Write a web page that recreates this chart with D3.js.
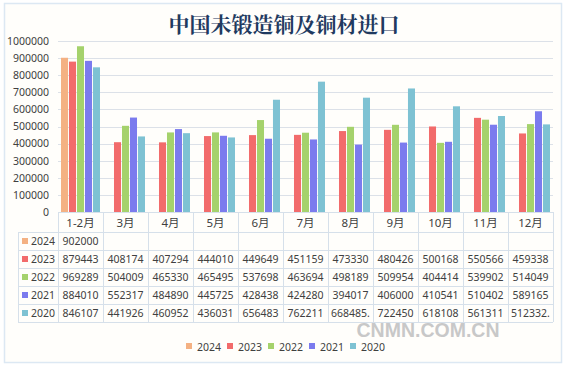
<!DOCTYPE html>
<html><head><meta charset="utf-8">
<script src="https://cdn.jsdelivr.net/npm/d3@7/dist/d3.min.js"></script>
<style>
html,body{margin:0;padding:0;background:#fff;}
svg{display:block;font-family:"Noto Sans","Noto Sans CJK SC",sans-serif;}
</style></head>
<body><svg id="c" width="568" height="367"></svg>
<script>
const title = "中国未锻造铜及铜材进口";
const categories = ["1-2月","3月","4月","5月","6月","7月","8月","9月","10月","11月","12月"];
const seriesNames = ["2024","2023","2022","2021","2020"];
const colors = ["#F4B183","#F26B6B","#A5D26C","#7B7BEE","#7EC2D3"];
const v2024 = [902000,null,null,null,null,null,null,null,null,null,null];
const v2023 = [879443,408174,407294,444010,449649,451159,473330,480426,500168,550566,459338];
const v2022 = [969289,504009,465330,465495,537698,463694,498189,509954,404414,539902,514049];
const v2021 = [884010,552317,484890,445725,428438,424280,394017,406000,410541,510402,589165];
const v2020 = [846107,441926,460952,436031,656483,762211,668485.5,722450,618108,561311,512332.5];
const yTicks = [0,100000,200000,300000,400000,500000,600000,700000,800000,900000,1000000];
const seriesValues = [v2024,v2023,v2022,v2021,v2020];

(function(){
const svg = d3.select("#c");
const txt = "#404040";
svg.append("rect").attr("x",4.5).attr("y",3.5).attr("width",557).attr("height",359)
  .attr("fill","#FFFEFB").attr("stroke","#DCE8F3").attr("stroke-width",1.5);

svg.append("text").attr("x",284).attr("y",32).attr("text-anchor","middle")
  .attr("font-size",21).attr("font-weight","bold").attr("fill","#1F3A60")
  .attr("font-family","'Noto Serif CJK SC','Noto Sans CJK SC',serif").text(title);

const pL = 58, pR = 553, pT = 41, pB = 212;
const x = d3.scaleBand().domain(categories).range([pL,pR]).paddingInner(0).paddingOuter(0);
const y = d3.scaleLinear().domain([0,1000000]).range([pB,pT]);
const xs = d3.scaleBand().domain(seriesNames).range([3,x.bandwidth()-3]).paddingInner(0.12);

svg.append("g").selectAll("line").data(yTicks.filter(d=>d>0)).join("line")
  .attr("x1",pL).attr("x2",pR).attr("y1",d=>Math.round(y(d))+0.5).attr("y2",d=>Math.round(y(d))+0.5)
  .attr("stroke","#DCE1E8").attr("stroke-width",1);

const yAxis = d3.axisLeft(y).tickValues(yTicks).tickSize(0).tickPadding(0).tickFormat(d3.format("d"));
const ya = svg.append("g").attr("transform",`translate(49,0)`).call(yAxis);
ya.select(".domain").remove();
ya.selectAll("text").attr("font-size",10.5).attr("fill",txt).attr("font-family","'Noto Sans',sans-serif");

seriesNames.forEach((s,si)=>{
  const data = categories.map((c,i)=>({c,v:seriesValues[si][i]})).filter(d=>d.v!=null);
  svg.append("g").selectAll("rect").data(data).join("rect")
    .attr("x",d=>x(d.c)+xs(s)).attr("width",xs.bandwidth())
    .attr("y",d=>y(d.v)).attr("height",d=>y(0)-y(d.v))
    .attr("fill",colors[si]);
});

const rowH = 18, headH = 20, tblLeft = 18;
const tg = svg.append("g");
const gridColor = "#D6E0EA";
const rowsTop = pB + headH;
for (let r=0;r<=seriesNames.length;r++){
  tg.append("line").attr("x1",tblLeft).attr("x2",pR).attr("y1",rowsTop+r*rowH+0.5).attr("y2",rowsTop+r*rowH+0.5)
    .attr("stroke",gridColor);
}
tg.append("line").attr("x1",pL).attr("x2",pR).attr("y1",pB+0.5).attr("y2",pB+0.5).attr("stroke",gridColor);
categories.forEach((c)=>{
  tg.append("line").attr("x1",x(c)+0.5).attr("x2",x(c)+0.5).attr("y1",pB).attr("y2",rowsTop+seriesNames.length*rowH).attr("stroke",gridColor);
});
tg.append("line").attr("x1",pR+0.5).attr("x2",pR+0.5).attr("y1",pB).attr("y2",rowsTop+seriesNames.length*rowH).attr("stroke",gridColor);
tg.append("line").attr("x1",tblLeft+0.5).attr("x2",tblLeft+0.5).attr("y1",rowsTop).attr("y2",rowsTop+seriesNames.length*rowH).attr("stroke",gridColor);
tg.selectAll("text.h").data(categories).join("text").attr("class","h")
  .attr("x",d=>x(d)+x.bandwidth()/2).attr("y",pB+headH/2+4.5).attr("text-anchor","middle")
  .attr("font-size",11.5).attr("fill",txt).text(d=>d);
const fmt = v => Number.isInteger(v) ? String(v) : Math.floor(v)+".";
seriesNames.forEach((s,si)=>{
  const cy = rowsTop + si*rowH + rowH/2;
  tg.append("rect").attr("x",tblLeft+4).attr("y",cy-3).attr("width",6).attr("height",6).attr("fill",colors[si]);
  tg.append("text").attr("x",tblLeft+13).attr("y",cy+4).attr("font-size",10.5).attr("fill",txt).text(s);
  seriesValues[si].forEach((v,i)=>{
    if(v==null) return;
    tg.append("text").attr("x",x(categories[i])+x.bandwidth()/2).attr("y",cy+4).attr("text-anchor","middle")
      .attr("font-size",10.5).attr("fill",txt).text(fmt(v));
  });
});

svg.append("text").attr("x",428).attr("y",337).attr("text-anchor","middle").attr("font-size",19.5)
  .attr("font-weight","bold").attr("fill","#C8C8C8").attr("font-family","'Liberation Sans',Arial,sans-serif")
  .text("CNMN.COM.CN");

const lg = svg.append("g").attr("transform","translate(186,346)");
let lx = 0;
seriesNames.forEach((s,si)=>{
  lg.append("rect").attr("x",lx).attr("y",-3).attr("width",6).attr("height",6).attr("fill",colors[si]);
  lg.append("text").attr("x",lx+11).attr("y",4.5).attr("font-size",10.5).attr("fill",txt).text(s);
  lx += 41;
});
})();
</script></body></html>
